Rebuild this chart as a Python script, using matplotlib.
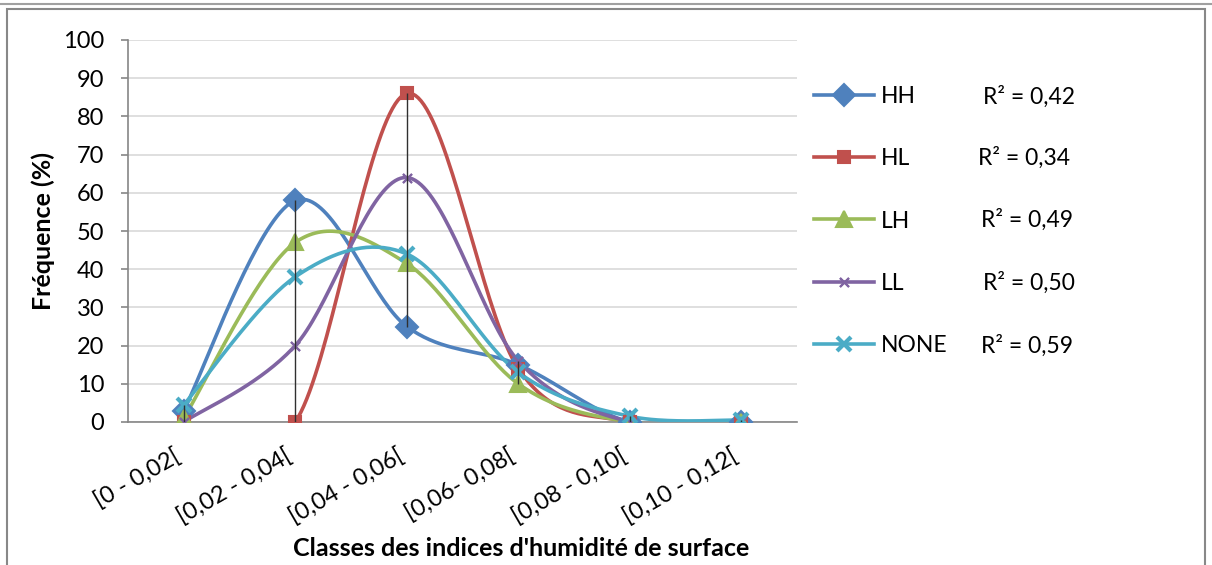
import numpy as np
import matplotlib
matplotlib.use("Agg")
import matplotlib.pyplot as plt
from matplotlib.lines import Line2D
from matplotlib.patches import Rectangle
import matplotlib.transforms as mtrans

plt.rcParams['font.family'] = ['Lato', 'DejaVu Sans']

categories = ["[0 - 0,02[", "[0,02 - 0,04[", "[0,04 - 0,06[", "[0,06- 0,08[", "[0,08 - 0,10[", "[0,10 - 0,12["]
hh = [3, 58, 25, 15, 0, 0]
hl = [0, 0, 86, 14, 0, 0]
lh = [1, 47, 41.5, 10, 0, 0]
ll = [0, 20, 64, 16, 0, 0]
none = [4.5, 38, 44, 13, 1.5, 0.5]
series_names = ["HH", "HL", "LH", "LL", "NONE"]
r2_labels = ["R² = 0,42", "R² = 0,34", "R² = 0,49", "R² = 0,50", "R² = 0,59"]
ylabel = "Fréquence (%)"
xlabel = "Classes des indices d'humidité de surface"

colors = ["#4F81BD", "#C0504D", "#9BBB59", "#8064A2", "#4BACC6"]
markers = ["D", "s", "^", (4, 2, 45), "x"]
msizes = [11, 9, 12, 9, 10.5]


def smooth(xs, ys, n=40):
    xs = np.asarray(xs, float)
    ys = np.asarray(ys, float)
    P = np.column_stack([xs, ys])
    out = []
    m = len(P)
    for i in range(m - 1):
        p0 = P[max(i - 1, 0)]
        p1 = P[i]
        p2 = P[i + 1]
        p3 = P[min(i + 2, m - 1)]
        c1 = p1 + (p2 - p0) / 6.0
        c2 = p2 - (p3 - p1) / 6.0
        t = np.linspace(0, 1, n)[:, None]
        seg = ((1 - t) ** 3) * p1 + 3 * ((1 - t) ** 2) * t * c1 + 3 * (1 - t) * t ** 2 * c2 + t ** 3 * p2
        if i > 0:
            seg = seg[1:]
        out.append(seg)
    pts = np.vstack(out)
    return pts[:, 0], pts[:, 1]


fig = plt.figure(figsize=(12.12, 5.65), dpi=100)
ax = fig.add_axes([128 / 1212, 1 - 422 / 565, (797 - 128) / 1212, (422 - 40) / 565])

x = np.arange(len(categories))
data = [hh, hl, lh, ll, none]
handles = []
for name, vals, c, mk, ms in zip(series_names, data, colors, markers, msizes):
    sx, sy = smooth(x, vals)
    ax.plot(sx, sy, color=c, lw=2.6, zorder=3, solid_capstyle='round')
    mew = 3 if mk == "x" else 1.5
    ax.plot(x, vals, linestyle='none', marker=mk, ms=ms, color=c, mec=c, mew=mew, zorder=4)
    handles.append(Line2D([0], [0], color=c, lw=2.6, marker=mk, ms=ms, mec=c, mew=mew))

arr = np.array(data)
ax.vlines(x, arr.min(axis=0), arr.max(axis=0), color="#303030", lw=1.0, zorder=5)

ax.set_xlim(-0.5, len(categories) - 0.5)
ax.set_ylim(0, 100)
ax.set_yticks(np.arange(0, 101, 10))
ax.yaxis.grid(True, color="#d9d9d9", lw=1.2)
ax.set_axisbelow(True)
for s in ["top", "right"]:
    ax.spines[s].set_visible(False)
for s in ["left", "bottom"]:
    ax.spines[s].set_color("#868686")
    ax.spines[s].set_linewidth(1.2)
ax.tick_params(axis='y', length=5, width=1.2, color="#868686", labelsize=17, pad=12)
ax.tick_params(axis='x', length=0, labelsize=17, pad=6)
ax.set_xticks(x)
ax.set_xticklabels(categories, rotation=30, ha='right', va='center', rotation_mode='anchor')
offset = mtrans.ScaledTranslation(-5 / 100, -24 / 100, fig.dpi_scale_trans)
for lbl in ax.get_xticklabels():
    lbl.set_transform(lbl.get_transform() + offset)

fig.text(521 / 1212, 1 - 548 / 565, xlabel, ha='center', va='center', fontsize=18, fontweight='bold')
fig.text(43 / 1212, 1 - 231 / 565, ylabel, ha='center', va='center', fontsize=18, fontweight='bold', rotation=90)

leg = fig.legend(handles, series_names, loc='upper left', bbox_to_anchor=(814 / 1212, 1 - 86 / 565),
                 frameon=False, fontsize=16.5, labelspacing=1.8, handlelength=2.6, handletextpad=0.3,
                 borderaxespad=0, borderpad=0)

r2_pos = [(983, 97), (978, 158), (981, 220), (983, 283), (981, 346)]
for (px, py), t in zip(r2_pos, r2_labels):
    fig.text(px / 1212, 1 - py / 565, t, ha='left', va='center', fontsize=16.5)

fig.add_artist(Line2D([0, 1], [1 - 4 / 565, 1 - 4 / 565], transform=fig.transFigure, color="#a0a0a0", lw=1.5))
fig.patches.append(Rectangle((7 / 1212, -0.05), (1205 - 7) / 1212, 1.05 - 9 / 565, transform=fig.transFigure,
                             fill=False, edgecolor="#888888", lw=1.5))

fig.savefig("out.png", dpi=100)
